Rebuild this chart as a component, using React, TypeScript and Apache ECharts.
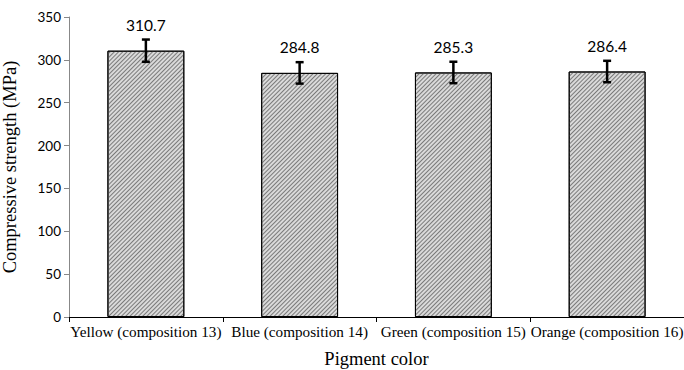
import React, { useEffect, useRef } from "react";
import * as echarts from "echarts";

const categories = [
  "Yellow (composition 13)",
  "Blue (composition 14)",
  "Green (composition 15)",
  "Orange (composition 16)",
];
const values = [310.7, 284.8, 285.3, 286.4];
const errors = [13, 12.5, 12.5, 12.5];
const yTicks = { min: 0, max: 350, interval: 50 };

export default function App() {
  const ref = useRef<HTMLDivElement>(null);
  useEffect(() => {
    if (!ref.current) return;
    const chart = echarts.init(ref.current, null, { renderer: "svg" });
    const errData = values.map((v, i) => [i, v - errors[i], v + errors[i], v]);
    chart.setOption({
      animation: false,
      backgroundColor: "#ffffff",
      grid: { left: 69, top: 17, bottom: 53, width: 615, containLabel: false, outerBoundsMode: "none" },
      xAxis: {
        type: "category",
        data: categories,
        name: "Pigment color",
        nameLocation: "middle",
        nameGap: 32,
        nameTextStyle: { fontFamily: "Liberation Serif", fontSize: 18.5, color: "#000" },
        axisLine: { lineStyle: { color: "#000", width: 1 } },
        axisTick: { show: true, length: 5, lineStyle: { color: "#000" } },
        axisLabel: {
          fontFamily: "Liberation Serif",
          fontSize: 15.2,
          color: "#000",
          margin: 7,
          interval: 0,
          hideOverlap: false,
        },
      },
      yAxis: {
        type: "value",
        min: yTicks.min,
        max: yTicks.max,
        interval: yTicks.interval,
        name: "Compressive strength (MPa)",
        nameLocation: "middle",
        nameGap: 50,
        nameTextStyle: { fontFamily: "Liberation Serif", fontSize: 18.5, color: "#000" },
        axisLine: { show: true, lineStyle: { color: "#888", width: 1 } },
        axisTick: { show: true, length: 5, lineStyle: { color: "#888" } },
        splitLine: { show: false },
        axisLabel: { fontFamily: "Lato", fontSize: 13.5, color: "#000", margin: 8 },
      },
      series: [
        {
          type: "bar",
          data: values,
          barWidth: "50%",
          itemStyle: {
            color: "#dadada",
            borderColor: "#000",
            borderWidth: 1,
            decal: {
              symbol: "rect",
              symbolSize: 1,
              dashArrayX: [1, 0],
              dashArrayY: [1, 2],
              rotation: -Math.PI / 4,
              color: "#7a7a7a",
            },
          },
        },
        {
          type: "custom",
          data: errData,
          z: 10,
          renderItem: (params: any, api: any) => {
            const x = api.coord([api.value(0), 0])[0];
            const lo = api.coord([api.value(0), api.value(1)])[1];
            const hi = api.coord([api.value(0), api.value(2)])[1];
            const v = api.value(3);
            const hw = 4;
            const st = { stroke: "#000", lineWidth: 2.5 };
            return {
              type: "group",
              children: [
                { type: "line", shape: { x1: x, y1: lo, x2: x, y2: hi }, style: st },
                { type: "line", shape: { x1: x - hw, y1: lo, x2: x + hw, y2: lo }, style: st },
                { type: "line", shape: { x1: x - hw, y1: hi, x2: x + hw, y2: hi }, style: st },
                {
                  type: "text",
                  x: x,
                  y: hi - 7,
                  style: {
                    text: v.toFixed(1),
                    fontFamily: "Lato",
                    fontSize: 15.5,
                    fill: "#000",
                    align: "center",
                    verticalAlign: "bottom",
                  },
                },
              ],
            };
          },
        },
      ],
    });
    return () => chart.dispose();
  }, []);
  return <div ref={ref} style={{ width: 684, height: 370, position: "absolute", left: 0, top: 0 }} />;
}
